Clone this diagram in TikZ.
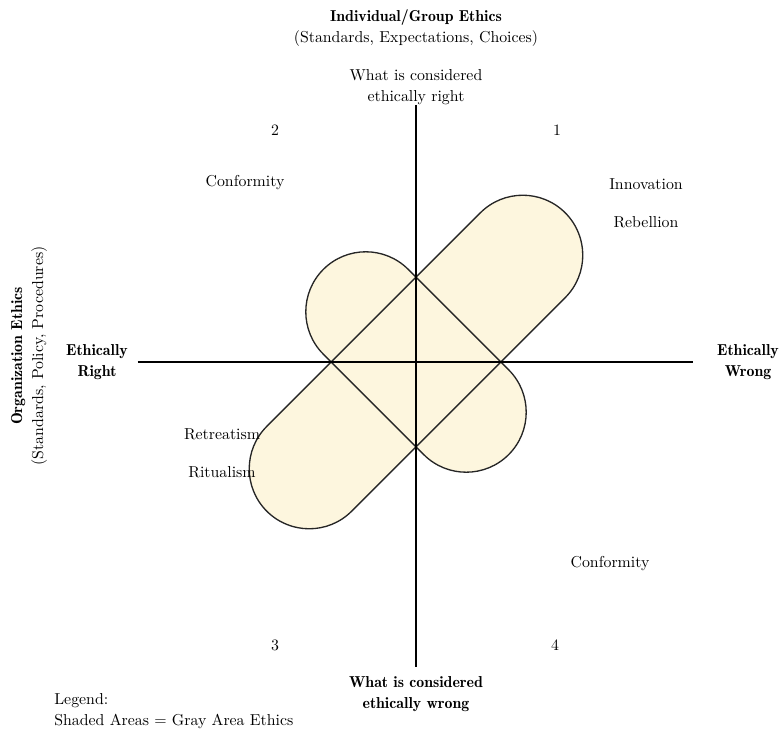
\documentclass[tikz,border=0pt]{standalone}
\usetikzlibrary{positioning}

\definecolor{grayarea}{RGB}{253,246,222}
\newcommand{\hb}{\fontseries{b}\selectfont}

\begin{document}
\begin{tikzpicture}[x=0.6pt, y=0.6pt,
  font=\fontsize{9.5}{12.6}\selectfont,
  lbl/.style={inner sep=0pt, align=center},
  head/.style={lbl, font=\fontsize{9.5}{12.6}\selectfont\hb},
  band/.style={draw=black!85, line width=0.8pt},
  axis/.style={line width=0.65pt},
  axisout/.style={line width=1.3pt}]
  \useasboundingbox (-416,-371) rectangle (365,362);

  % gray area bands
  \fill[grayarea, rotate=45] (-151,-60) -- (151,-60) arc[start angle=-90, end angle=90, radius=60]
    -- (-151,60) arc[start angle=90, end angle=270, radius=60] -- cycle;
  \fill[grayarea, rotate=-45] (-71,-60) -- (71,-60) arc[start angle=-90, end angle=90, radius=60]
    -- (-71,60) arc[start angle=90, end angle=270, radius=60] -- cycle;
  \draw[band, rotate=45] (-151,-60) -- (151,-60) arc[start angle=-90, end angle=90, radius=60]
    -- (-151,60) arc[start angle=90, end angle=270, radius=60] -- cycle;
  \draw[band, rotate=-45] (-71,-60) -- (71,-60) arc[start angle=-90, end angle=90, radius=60]
    -- (-71,60) arc[start angle=90, end angle=270, radius=60] -- cycle;

  % headings
  \node[lbl] (indiv) at (0,334) {{\hb Individual/Group Ethics}\\(Standards, Expectations, Choices)};
  \node[lbl] (rightq) at (0,275) {What is considered\\ethically right};
  \node[head] (wrongq) at (0,-332) {What is considered\\ethically wrong};
  \node[head] (eright) at (-319,0) {Ethically\\Right};
  \node[head] (ewrong) at (332,0) {Ethically\\Wrong};
  \node[lbl, rotate=90] (orgeth) at (-387,6) {{\hb Organization Ethics}\\(Standards, Policy, Procedures)};

  % quadrants
  \node[lbl] (q1) at (141,232) {1};
  \node[lbl] (q2) at (-141,232) {2};
  \node[lbl] (q3) at (-141,-283) {3};
  \node[lbl] (q4) at (139,-283) {4};
  \node[lbl] (conf2) at (-171,179) {Conformity};
  \node[lbl] (innov) at (230,178) {Innovation};
  \node[lbl] (rebel) at (230,140) {Rebellion};
  \node[lbl] (retreat) at (-194,-72) {Retreatism};
  \node[lbl] (ritual) at (-194,-110) {Ritualism};
  \node[lbl] (conf4) at (194,-202) {Conformity};

  % legend
  \node[lbl, align=left, anchor=west] (legend) at (-362,-349) {Legend:\\Shaded Areas = Gray Area Ethics};

  % axes
  \coordinate (vtop) at (0,257);
  \coordinate (vbot) at (0,-305);
  \coordinate (vin) at (0,-130);
  \coordinate (hl) at (-278,0);
  \coordinate (hlin) at (-128,0);
  \coordinate (hr) at (277,0);
  \coordinate (hrin) at (143,0);
  \draw[axis] (vtop) -- (vbot);
  \draw[axis] (hl) -- (hr);
  \draw[axisout] (vin) -- (vbot);
  \draw[axisout] (hl) -- (hlin);
  \draw[axisout] (hrin) -- (hr);
\end{tikzpicture}
\end{document}
